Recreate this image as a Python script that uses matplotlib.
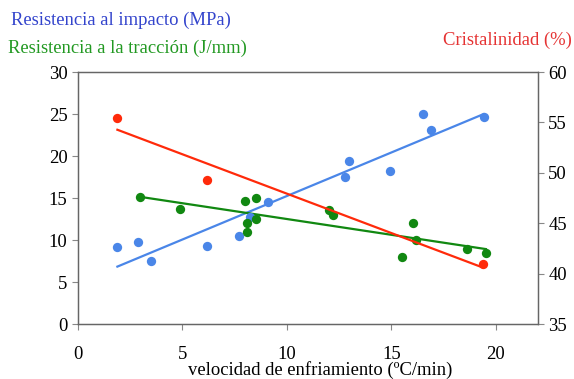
import numpy as np
import matplotlib
matplotlib.use("Agg")
import matplotlib.pyplot as plt

plt.rcParams['font.family'] = ['Liberation Serif', 'DejaVu Serif']

# Resistencia al impacto (MPa) - left axis
impact_x = [1.89, 2.89, 3.48, 6.19, 7.70, 8.24, 9.10, 12.80, 12.99, 14.94, 16.51, 16.90, 19.41]
impact_y = [9.20, 9.76, 7.46, 9.29, 10.48, 12.77, 14.49, 17.50, 19.37, 18.25, 24.96, 23.06, 24.68]

# Resistencia a la tracción (J/mm) - left axis
tensile_x = [2.97, 4.90, 7.98, 8.51, 8.09, 8.11, 8.51, 12.02, 12.20, 16.01, 16.20, 15.50, 18.61, 19.52]
tensile_y = [15.15, 13.73, 14.68, 15.00, 11.99, 10.95, 12.50, 13.54, 12.94, 11.99, 10.00, 7.94, 8.93, 8.45]

# Cristalinidad (%) - right axis
cryst_x = [1.89, 6.19, 19.39]
cryst_y = [55.47, 49.32, 40.98]

x_ticks = [0, 5, 10, 15, 20]
left_ticks = [0, 5, 10, 15, 20, 25, 30]
right_ticks = [35, 40, 45, 50, 55, 60]

c_blue = '#4A86E8'
c_green = '#118811'
c_red = '#FF2A0A'
FS = 13.4

fig = plt.figure(figsize=(5.74, 3.79), dpi=100)
ax = fig.add_axes([0.1357, 0.1451, 0.8011, 0.6649])
ax2 = ax.twinx()

def fitline(a, xs, ys, color):
    xs = np.asarray(xs); ys = np.asarray(ys)
    m, b = np.polyfit(xs, ys, 1)
    xx = np.array([xs.min(), xs.max()])
    a.plot(xx, m * xx + b, color=color, lw=1.6, zorder=2)

ax.scatter(impact_x, impact_y, s=45, color=c_blue, zorder=3, linewidths=0)
fitline(ax, impact_x, impact_y, c_blue)
ax.scatter(tensile_x, tensile_y, s=45, color=c_green, zorder=3, linewidths=0)
fitline(ax, tensile_x, tensile_y, c_green)
ax2.scatter(cryst_x, cryst_y, s=45, color=c_red, zorder=3, linewidths=0)
fitline(ax2, cryst_x, cryst_y, c_red)

ax.set_xlim(0, 22)
ax.set_ylim(0, 30)
ax2.set_ylim(35, 60)
ax.set_xticks(x_ticks)
ax.set_yticks(left_ticks)
ax2.set_yticks(right_ticks)

for a in (ax, ax2):
    a.tick_params(labelsize=FS, length=4, color='#888888', direction='out')
    for s in a.spines.values():
        s.set_color('#666666')
        s.set_linewidth(0.9)
ax.tick_params(axis='x', pad=11.5)

ax.set_xlabel('velocidad de enfriamiento (ºC/min)', fontsize=FS, va='center')
ax.xaxis.set_label_coords(0.526, -0.183)

fig.text(0.020, 0.947, 'Resistencia al impacto (MPa)', color='#3344CC', fontsize=FS, va='center', ha='left')
fig.text(0.014, 0.873, 'Resistencia a la tracción (J/mm)', color='#229922', fontsize=FS, va='center', ha='left')
fig.text(0.997, 0.893, 'Cristalinidad (%)', color='#E53333', fontsize=FS, va='center', ha='right')

fig.savefig('out.png', dpi=100)
